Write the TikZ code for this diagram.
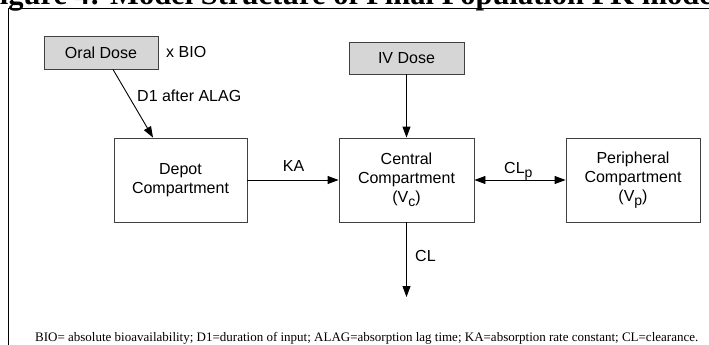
\documentclass[tikz,border=0pt]{standalone}
\usepackage{fontspec}
\setmainfont{Liberation Serif}
\newfontfamily\diagsans{Liberation Sans}
\usetikzlibrary{arrows.meta}
\newcommand{\lowsub}[1]{\raisebox{-4.5pt}{\fontsize{14}{14}\selectfont #1}}
\begin{document}
\begin{tikzpicture}[x=1pt,y=-1pt,
  box/.style={draw=black!75, line width=0.9pt, inner sep=0pt, align=center,
              font=\diagsans\fontsize{16}{19}\selectfont},
  dosebox/.style={box, fill=black!16},
  lbl/.style={inner sep=0pt, font=\diagsans\fontsize{16}{19}\selectfont},
  arr/.style={line width=0.9pt, -{Triangle[length=11pt,width=8pt]}},
  darr/.style={line width=0.9pt, {Triangle[length=11pt,width=8pt]}-{Triangle[length=11pt,width=8pt]}}]
\useasboundingbox (0,0) rectangle (709,345);
\clip (0,0) rectangle (709,345);
\fill[white] (0,0) rectangle (709,345);
% title (cut off at top)
\node[anchor=base west, inner sep=0pt, font=\bfseries\fontsize{30.5}{30.5}\selectfont] (title) at (-19,5) {Figure 4: Model Structure of Final Population PK model};
% frame
\draw[line width=1pt] (8,9) rectangle (730,370);
% nodes
\node[dosebox, minimum width=114pt, minimum height=33pt] (oral) at (101,52.5) {Oral Dose};
\node[dosebox, minimum width=115pt, minimum height=32pt] (iv) at (406.5,58) {IV Dose};
\node[box, minimum width=133pt, minimum height=84pt] (depot) at (180.5,180) {Depot\\Compartment};
\node[box, minimum width=135pt, minimum height=84pt] (central) at (406.5,180) {Central\\Compartment\\(V\lowsub{c})};
\node[box, minimum width=134pt, minimum height=84pt] (periph) at (633,180) {Peripheral\\Compartment\\(V\lowsub{p})};
\coordinate (out) at (406.5,297);
% labels
\node[lbl, anchor=west] (bio) at (166,52) {x BIO};
\node[lbl, anchor=west] (d1) at (137,96) {D1 after ALAG};
\node[lbl] (ka) at (293.5,166) {KA};
\node[lbl, anchor=base west] (clp) at (504,173) {CL\lowsub{p}};
\node[lbl, anchor=west] (cl) at (415,256) {CL};
% connectors
\draw[arr] ([xshift=12pt]oral.south) -- ([xshift=-27.5pt]depot.north);
\draw[arr] (iv.south) -- (central.north);
\draw[arr] (depot.east) -- (central.west);
\draw[darr] (central.east) -- (periph.west);
\draw[arr] (central.south) -- (out);
% footnote
\node[anchor=west, inner sep=0pt, font=\fontsize{13}{13}\selectfont] (foot) at (35,338) {BIO= absolute bioavailability; D1=duration of input; ALAG=absorption lag time; KA=absorption rate constant; CL=clearance.};
\end{tikzpicture}
\end{document}
